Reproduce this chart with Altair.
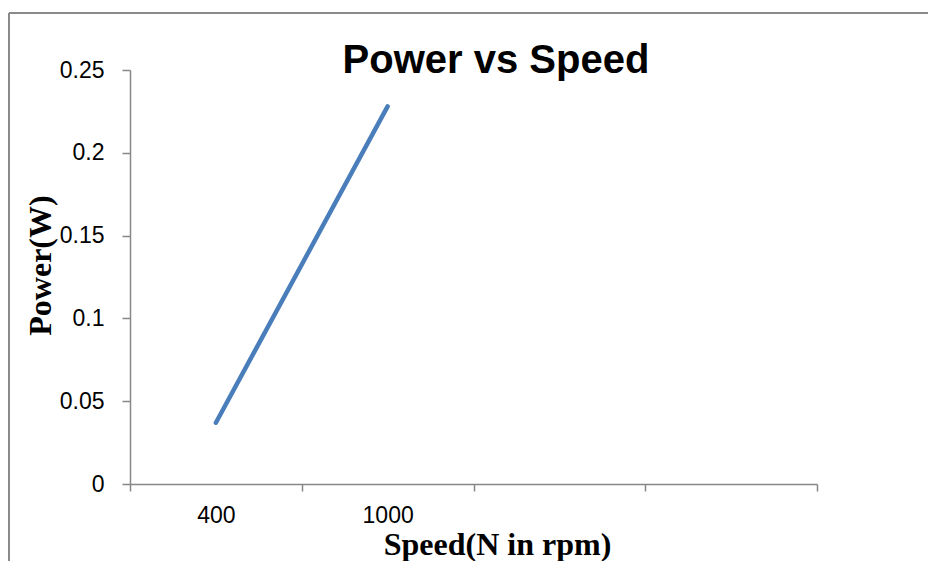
import altair as alt
import pandas as pd

# data
speed_categories = ["400", "1000"]
power_values = [0.037, 0.228]
axis_categories = ["400", "1000", "c3", "c4"]   # Excel category slots (last two unlabeled)
y_ticks = [0, 0.05, 0.1, 0.15, 0.2, 0.25]
chart_title = ["Power vs Speed"]

df = pd.DataFrame({"speed": speed_categories, "power": power_values})

GRAY = "#878787"

line = alt.Chart(df).mark_line(color="#4A7EBB", strokeWidth=4.5, strokeCap="round").encode(
    x=alt.X(
        "speed:N",
        sort=axis_categories,
        scale=alt.Scale(domain=axis_categories, paddingInner=0, paddingOuter=0),
        axis=alt.Axis(
            title="Speed(N in rpm)",
            titleFont="Liberation Serif",
            titleFontWeight="bold",
            titleFontSize=32,
            titleColor="black",
            titleX=367,
            titleY=70,
            titleAlign="center",
            titleBaseline="alphabetic",
            labelExpr="datum.label == '400' || datum.label == '1000' ? datum.label : ''",
            labelAngle=0,
            labelFont="Liberation Sans",
            labelFontSize=23,
            labelColor="black",
            labelBaseline="top",
            labelPadding=13,
            tickBand="extent",
            tickSize=7,
            tickColor=GRAY,
            tickWidth=1.5,
            domainColor=GRAY,
            domainWidth=1.5,
            grid=False,
        ),
    ),
    y=alt.Y(
        "power:Q",
        scale=alt.Scale(domain=[0, 0.25], nice=False, zero=True),
        axis=alt.Axis(
            title="Power(W)",
            titleFont="Liberation Serif",
            titleFontWeight="bold",
            titleFontSize=32,
            titleColor="black",
            titleAngle=270,
            titleX=-80,
            titleY=195,
            titleAlign="center",
            titleBaseline="alphabetic",
            values=y_ticks,
            format="~g",
            labelFont="Liberation Sans",
            labelFontSize=23,
            labelColor="black",
            labelPadding=18,
            tickSize=8,
            tickColor=GRAY,
            tickWidth=1.5,
            domainColor=GRAY,
            domainWidth=1.5,
            grid=False,
        ),
    ),
)

frame_df = pd.DataFrame({"f": [0]})
left_border = alt.Chart(frame_df).mark_rule(color="#8a8a8a", strokeWidth=2).encode(
    x=alt.value(-121), y=alt.value(-57), y2=alt.value(500)
)
top_border = alt.Chart(frame_df).mark_rule(color="#8a8a8a", strokeWidth=2).encode(
    x=alt.value(-121), x2=alt.value(820), y=alt.value(-57)
)

title_df = pd.DataFrame({"t": chart_title})
title_mark = alt.Chart(title_df).mark_text(
    font="Liberation Sans",
    fontWeight="bold",
    fontSize=40,
    color="black",
    align="center",
    baseline="alphabetic",
).encode(x=alt.value(366), y=alt.value(3), text="t:N")

chart = alt.layer(left_border, top_border, title_mark, line).properties(
    width=687,
    height=414,
    background="white",
    autosize=alt.AutoSizeParams(type="none"),
    padding={"left": 122, "top": 62, "right": 111, "bottom": 77},
).configure_view(stroke="transparent", strokeWidth=0)

chart.save("out.html", embed_options={"renderer": "svg", "actions": False})
